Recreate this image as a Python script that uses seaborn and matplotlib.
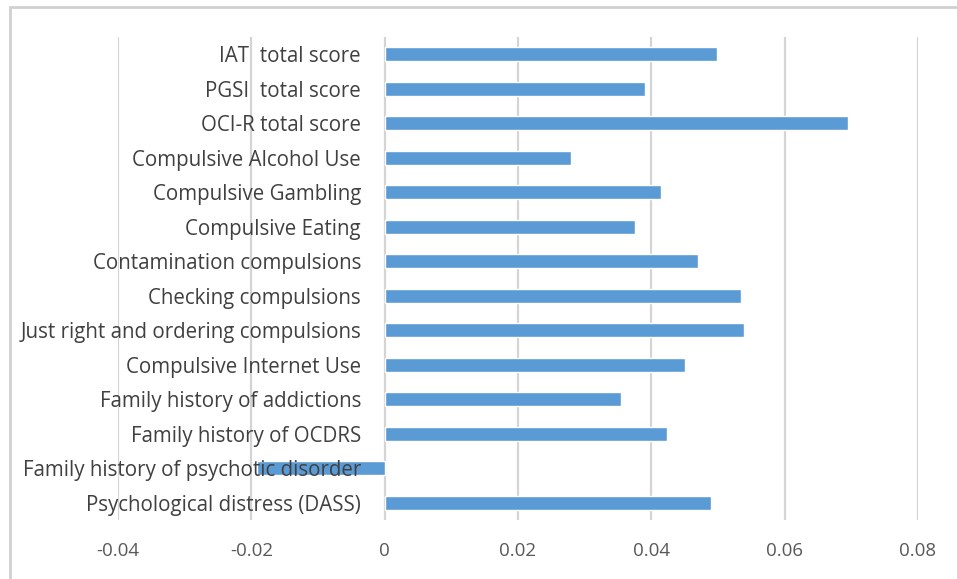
import matplotlib
matplotlib.use('Agg')
import matplotlib.pyplot as plt
import seaborn as sns
import pandas as pd
from matplotlib.patches import Rectangle

# Chart data (top to bottom)
categories = [
    'IAT  total score',
    'PGSI  total score',
    'OCI-R total score',
    'Compulsive Alcohol Use',
    'Compulsive Gambling',
    'Compulsive Eating',
    'Contamination compulsions',
    'Checking compulsions',
    'Just right and ordering compulsions',
    'Compulsive Internet Use',
    'Family history of addictions',
    'Family history of OCDRS',
    'Family history of psychotic disorder',
    'Psychological distress (DASS)',
]
values = [0.0498, 0.0390, 0.0695, 0.0279, 0.0414, 0.0375, 0.0470,
          0.0535, 0.0539, 0.0450, 0.0354, 0.0423, -0.0192, 0.0490]
x_ticks = [-0.04, -0.02, 0, 0.02, 0.04, 0.06, 0.08]
x_tick_labels = ['-0.04', '-0.02', '0', '0.02', '0.04', '0.06', '0.08']

df = pd.DataFrame({'Variable': categories, 'Value': values})

sns.set_style('white')
plt.rcParams['font.family'] = ['Open Sans', 'DejaVu Sans']

fig = plt.figure(figsize=(9.57, 5.79), dpi=100)
ax = fig.add_axes([118 / 957, 1 - 520 / 579, 800 / 957, (520 - 37) / 579])

sns.barplot(data=df, x='Value', y='Variable', orient='h', color='#5B9BD5',
            saturation=1, width=0.4, ax=ax, zorder=2)

ax.set_xlim(-0.04, 0.08)
ax.set_xticks(x_ticks)
ax.set_xticklabels(x_tick_labels, fontsize=13.5, color='#595959')
ax.tick_params(axis='x', length=0, pad=16)
ax.tick_params(axis='y', length=0, pad=17, labelsize=14.8, labelcolor='#404040')
ax.grid(axis='x', color='#d4d4d4', linewidth=1.6)
ax.set_xlabel('')
ax.set_ylabel('')
for s in ax.spines.values():
    s.set_visible(False)
# category labels sit at the zero line, as in the original
ax.spines['left'].set_position(('data', 0))
# gridlines behind the bars, category labels in front of them
ax.xaxis.set_zorder(0.5)
ax.yaxis.set_zorder(5)

# light frame around the chart area
fig.patches.append(Rectangle((10 / 957, -0.05), 1.1, 1 - 7 / 579 + 0.05,
                             transform=fig.transFigure, fill=False,
                             edgecolor='#d0d0d0', linewidth=2))

fig.savefig('out.png', dpi=100)
